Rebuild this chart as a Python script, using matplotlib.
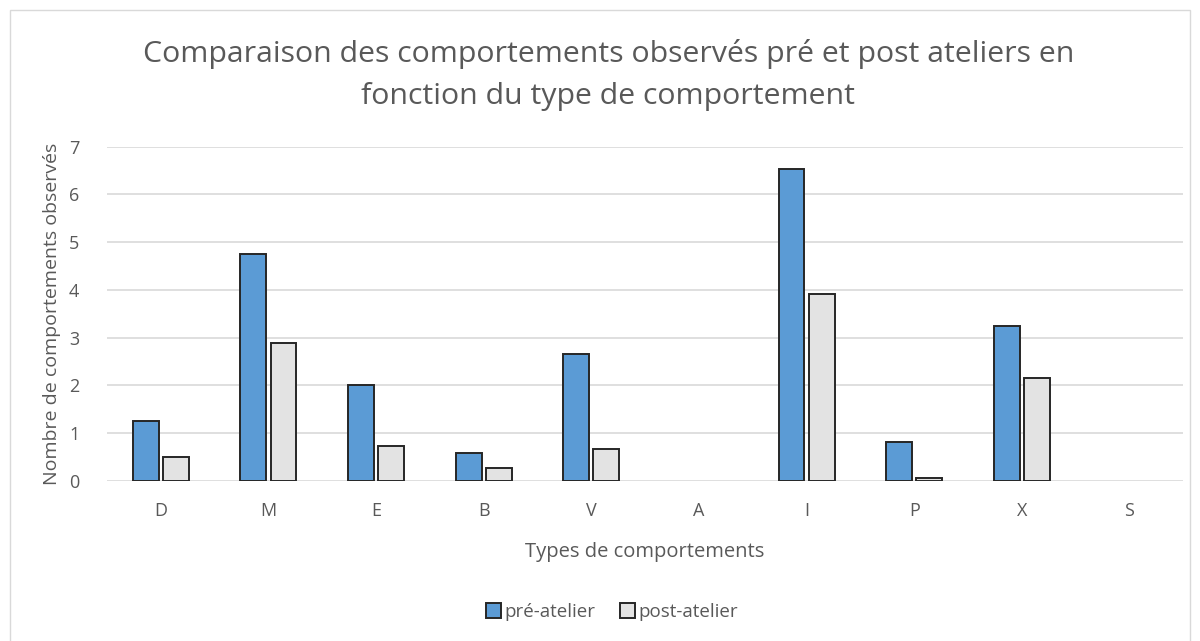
import matplotlib.pyplot as plt
from matplotlib.patches import Rectangle
import numpy as np

categories = ["D", "M", "E", "B", "V", "A", "I", "P", "X", "S"]
pre_atelier = [1.25, 4.75, 2.0, 0.58, 2.66, 0, 6.53, 0.81, 3.25, 0]
post_atelier = [0.5, 2.9, 0.74, 0.27, 0.66, 0, 3.92, 0.07, 2.15, 0]
yticks = [0, 1, 2, 3, 4, 5, 6, 7]

TXT = "#595959"


def main():
    plt.rcParams['font.family'] = ['Open Sans', 'DejaVu Sans']
    fig = plt.figure(figsize=(12, 6.41), dpi=100)
    ax = fig.add_axes([0.0892, 0.2496, 0.8968, 0.5215])

    x = np.arange(len(categories))
    w = 0.24
    off = 0.14
    # empty categories get no outline at all
    lw_pre = [1.4 if v > 0 else 0 for v in pre_atelier]
    lw_post = [1.4 if v > 0 else 0 for v in post_atelier]
    ax.bar(x - off, pre_atelier, w, color="#5b9bd5", edgecolor="#262626",
           linewidth=lw_pre, label="pré-atelier", zorder=3)
    ax.bar(x + off, post_atelier, w, color="#e3e3e3", edgecolor="#262626",
           linewidth=lw_post, label="post-atelier", zorder=3)

    ax.set_xlim(-0.5, len(categories) - 0.5)
    ax.set_ylim(0, 7)
    ax.set_yticks(yticks)
    ax.set_xticks(x)
    ax.set_xticklabels(categories)
    ax.grid(axis="y", color="#d9d9d9", linewidth=1.2, zorder=0)
    for s in ax.spines.values():
        s.set_visible(False)
    ax.tick_params(length=0, colors=TXT, labelsize=13, pad=15)
    ax.tick_params(axis="y", pad=20)

    ax.set_xlabel("Types de comportements", fontsize=14.5, color=TXT, labelpad=16)
    ax.set_ylabel("Nombre de comportements observés", fontsize=14, color=TXT, labelpad=6)

    fig.text(0.507, 0.883, "Comparaison des comportements observés pré et post ateliers en\nfonction du type de comportement",
             ha="center", va="center", fontsize=21.8, color=TXT, linespacing=1.55)

    leg = fig.legend(loc="center", bbox_to_anchor=(0.51, 0.045), ncol=2, frameon=False,
                     fontsize=13.5, handlelength=0.8, handleheight=0.8, handletextpad=0.2,
                     columnspacing=1.3)
    for t in leg.get_texts():
        t.set_color(TXT)
    for h in leg.legend_handles:
        h.set_linewidth(1.4)

    fig.patches.append(Rectangle((0.008, -0.01), 0.984, 0.995, transform=fig.transFigure,
                                 fill=False, edgecolor="#d9d9d9", linewidth=1))

    fig.savefig("out.png", dpi=100)


if __name__ == "__main__":
    main()
